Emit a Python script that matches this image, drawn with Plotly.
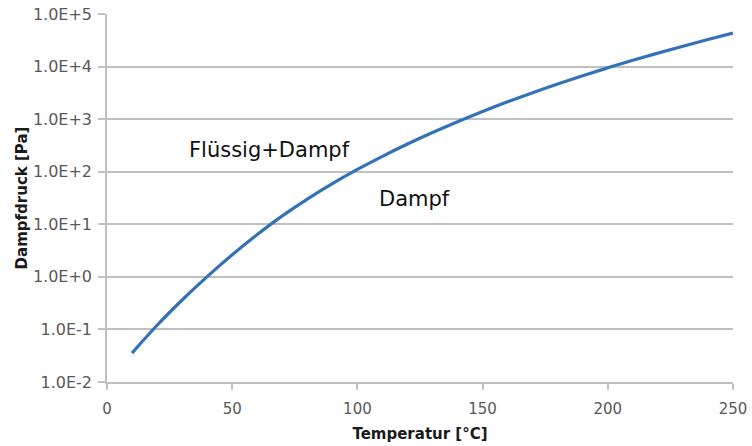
import plotly.graph_objects as go

temperature = [10, 20, 30, 40, 50, 60, 70, 80, 90, 100, 110, 120, 130, 140, 150,
               160, 170, 180, 190, 200, 210, 220, 230, 240, 250]
vapor_pressure = [0.0355, 0.120, 0.363, 1.01, 2.63, 6.38, 14.45, 30.2, 59.3, 110.4,
                  196.3, 335.7, 555.9, 893.3, 1400, 2138, 3192, 4667, 6699, 9462,
                  13150, 18030, 24430, 32730, 43450]

y_tickvals = [1e-2, 1e-1, 1e0, 1e1, 1e2, 1e3, 1e4, 1e5]
y_ticktext = ["1.0E-2", "1.0E-1", "1.0E+0", "1.0E+1", "1.0E+2", "1.0E+3", "1.0E+4", "1.0E+5"]
x_tickvals = [0, 50, 100, 150, 200, 250]

FONT = "DejaVu Sans"
GRID = "#c0c0c0"

fig = go.Figure()
fig.add_trace(go.Scatter(
    x=temperature, y=vapor_pressure, mode="lines",
    line=dict(color="#3472b8", width=3.2, shape="spline"),
    showlegend=False, hoverinfo="skip",
))

fig.add_annotation(x=65, y=2.41, xref="x", yref="y", text="Flüssig+Dampf",
                   showarrow=False, font=dict(family=FONT, size=21, color="#111111"))
fig.add_annotation(x=123, y=1.48, xref="x", yref="y", text="Dampf",
                   showarrow=False, font=dict(family=FONT, size=21, color="#111111"))

fig.update_layout(
    width=752, height=446,
    margin=dict(l=107, r=19, t=14, b=64),
    paper_bgcolor="white", plot_bgcolor="white",
    font=dict(family=FONT, size=15, color="#595959"),
    xaxis=dict(
        range=[0, 250], tickvals=x_tickvals, showgrid=False, zeroline=False,
        automargin=False,
        showline=True, linecolor=GRID, linewidth=1.5,
        ticks="outside", ticklen=6, tickcolor=GRID, tickwidth=1.5,
        ticklabelstandoff=6,
        tickfont=dict(family=FONT, size=15, color="#595959"),
        title=dict(text="<b>Temperatur [°C]</b>", standoff=12,
                   font=dict(family=FONT, size=15, color="#1a1a1a")),
    ),
    yaxis=dict(
        type="log", range=[-2, 5], tickvals=y_tickvals, ticktext=y_ticktext,
        showgrid=True, gridcolor=GRID, gridwidth=1.5, zeroline=False,
        automargin=False,
        showline=True, linecolor=GRID, linewidth=1.5,
        ticks="outside", ticklen=7, tickcolor=GRID, tickwidth=1.5,
        ticklabelstandoff=3,
        tickfont=dict(family=FONT, size=16, color="#595959"),
        title=dict(text="<b>Dampfdruck [Pa]</b>", standoff=2,
                   font=dict(family=FONT, size=15, color="#1a1a1a")),
    ),
)

fig.write_html("out.html")
